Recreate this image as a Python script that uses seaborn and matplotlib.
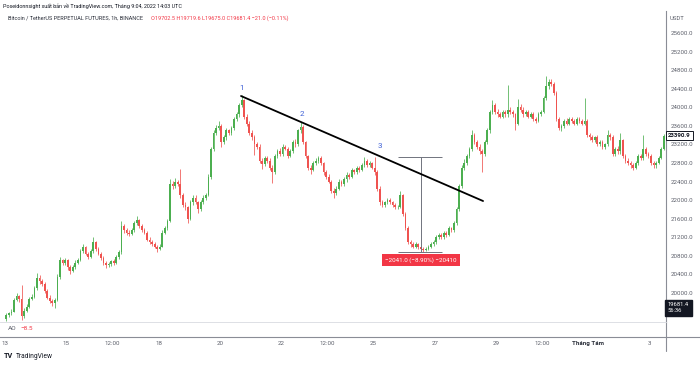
import numpy as np
import pandas as pd
import matplotlib
matplotlib.use("Agg")
import matplotlib.pyplot as plt
from matplotlib.lines import Line2D
import seaborn as sns

# ---------------- data (2-hour candles, Jul 13 00:00 -> Aug 3 10:00) ----------------
first_open = 19450
closes = [
    19520, 19560, 19600, 19850, 19930, 19870, 19500, 19620, 19700, 19880, 19920, 20100,
    20330, 20250, 20200, 20050, 19900, 19820, 19780, 19850, 20350, 20700, 20650, 20700,
    20550, 20480, 20560, 20650, 20700, 20900, 20980, 20850, 20780, 20900, 21100, 20950,
    20850, 20760, 20650, 20600, 20620, 20680, 20650, 20780, 20880, 21450, 21350, 21300,
    21280, 21350, 21500, 21580, 21450, 21350, 21300, 21150, 21100, 21050, 21000, 20950,
    21000, 21300, 21400, 21550, 22350, 22300, 22400, 22350, 22100, 21900, 21850, 21600,
    21950, 22050, 21950, 21800, 21950, 22050, 22100, 22500, 23100, 23450, 23550, 23600,
    23250, 23350, 23500, 23450, 23550, 23750, 23850, 24050, 24150, 23800, 23650, 23450,
    23350, 23200, 23150, 22850, 22780, 22900, 22850, 22700, 22600, 22950, 23050, 23000,
    23150, 23100, 22950, 23050, 23250, 23200, 23500, 23580, 23250, 22950, 22700, 22650,
    22800, 22850, 22900, 22800, 22600, 22500, 22400, 22200, 22150, 22250, 22400, 22350,
    22450, 22550, 22500, 22650, 22600, 22700, 22650, 22750, 22850, 22750, 22800, 22700,
    22600, 22250, 21950, 21900, 21950, 22000, 21950, 21900, 21850, 21850, 22100, 21700,
    21400, 21100, 21050, 21000, 21050, 20980, 20950, 20920, 20950, 21000, 21050, 21100,
    21200, 21250, 21200, 21300, 21250, 21400, 21350, 21500, 21800, 22300, 22700, 22800,
    22950, 23100, 23400, 23250, 23150, 23050, 23000, 23250, 23500, 23900, 24050, 23900,
    23850, 23800, 23900, 23850, 23950, 23900, 23850, 23650, 24000, 23950, 23850, 23900,
    23800, 23850, 23750, 23700, 23850, 23900, 24200, 24450, 24550, 24500, 24300, 23750,
    23550, 23600, 23700, 23650, 23750, 23700, 23650, 23750, 23700, 23650, 23700, 23400,
    23350, 23300, 23350, 23200, 23250, 23150, 23200, 23400, 23350, 23000, 23100, 23050,
    23300, 22950, 22850, 22800, 22750, 22700, 22800, 22950, 22900, 23100, 23000, 22950,
    22800, 22750, 22800, 22900, 23100, 23390.9,
]
highs = [
    19560, 19600, 19660, 19900, 19990, 19960, 20170, 19680, 19760, 19920, 19980, 20160,
    20420, 20380, 20300, 20230, 20080, 19950, 19870, 19900, 20400, 20780, 20740, 20760,
    20740, 20600, 20610, 20700, 20750, 20950, 21050, 21010, 20880, 20940, 21200, 21130,
    20990, 20890, 20800, 20690, 20670, 20720, 20730, 20820, 20920, 21550, 21480, 21400,
    21360, 21400, 21540, 21660, 21600, 21480, 21400, 21330, 21200, 21140, 21090, 21040,
    21060, 21350, 21450, 21600, 22450, 22420, 22470, 22440, 22670, 22150, 21950, 21880,
    22000, 22120, 22100, 21990, 22000, 22110, 22160, 22560, 23150, 23520, 23620, 23700,
    23640, 23400, 23560, 23540, 23600, 23800, 23900, 24100, 24270, 24180, 23850, 23700,
    23500, 23400, 23260, 23200, 22900, 22950, 22950, 22900, 22750, 23000, 23100, 23120,
    23200, 23190, 23140, 23100, 23300, 23310, 23540, 23690, 23620, 23280, 22980, 22760,
    22850, 22900, 22960, 22940, 22830, 22640, 22560, 22430, 22260, 22300, 22450, 22440,
    22490, 22600, 22590, 22700, 22680, 22740, 22730, 22800, 22930, 22880, 22840, 22830,
    22930, 22640, 22300, 22000, 21990, 22040, 22040, 21980, 21940, 21900, 22200, 22130,
    21740, 21440, 21150, 21100, 21090, 21080, 21020, 20990, 20990, 21040, 21090, 21140,
    21240, 21300, 21290, 21340, 21330, 21440, 21430, 21540, 21850, 22350, 22750, 22880,
    23000, 23150, 23500, 23440, 23300, 23200, 23100, 23300, 23550, 23950, 24150, 24100,
    23960, 23900, 23950, 23940, 24480, 24000, 23940, 23880, 24180, 24060, 24000, 23950,
    23940, 23890, 23900, 23800, 23890, 23950, 24250, 24680, 24620, 24600, 24540, 24350,
    23800, 23650, 23740, 23760, 23790, 23800, 23740, 23800, 23790, 23750, 24200, 23740,
    23450, 23400, 23390, 23400, 23300, 23290, 23240, 23500, 23440, 23400, 23150, 23160,
    23450, 23320, 23000, 22900, 22850, 22800, 22840, 23000, 23000, 23400, 23150, 23040,
    22990, 22850, 22850, 22950, 23150, 23420,
]
lows = [
    19400, 19480, 19530, 19580, 19820, 19800, 19420, 19470, 19590, 19680, 19850, 19900,
    20070, 20200, 20150, 20000, 19860, 19780, 19730, 19680, 19820, 20300, 20600, 20610,
    20500, 20400, 20450, 20520, 20620, 20680, 20860, 20820, 20740, 20750, 20870, 20910,
    20810, 20720, 20610, 20530, 20560, 20590, 20600, 20620, 20740, 20850, 21300, 21250,
    21230, 21240, 21320, 21460, 21400, 21310, 21260, 21110, 21050, 21010, 20960, 20880,
    20920, 20980, 21260, 21360, 21520, 22240, 22260, 22300, 22050, 21850, 21780, 21500,
    21580, 21900, 21920, 21720, 21770, 21910, 22000, 22080, 22460, 23050, 23400, 23500,
    23150, 23200, 23300, 23400, 23400, 23520, 23700, 23800, 24000, 23750, 23600, 23400,
    23300, 22980, 23100, 22800, 22680, 22740, 22800, 22650, 22370, 22560, 22900, 22960,
    22960, 23080, 22900, 22920, 23020, 23150, 23160, 23450, 23200, 22900, 22650, 22560,
    22620, 22760, 22810, 22760, 22550, 22460, 22360, 22160, 22050, 22100, 22220, 22300,
    22310, 22400, 22460, 22470, 22560, 22570, 22610, 22620, 22710, 22710, 22720, 22660,
    22550, 22200, 21900, 21850, 21860, 21910, 21910, 21860, 21800, 21800, 21820, 21650,
    21350, 21060, 21000, 20960, 20960, 20940, 20920, 20890, 20900, 20920, 20970, 21010,
    21060, 21160, 21160, 21170, 21210, 21220, 21310, 21320, 21460, 21760, 22260, 22650,
    22750, 22900, 23060, 23200, 23100, 23000, 22600, 22960, 23200, 23450, 23850, 23850,
    23800, 23760, 23760, 23800, 23800, 23860, 23800, 23510, 23620, 23900, 23800, 23810,
    23760, 23760, 23710, 23660, 23680, 23820, 23870, 24150, 24400, 24450, 24260, 23700,
    23500, 23480, 23560, 23610, 23620, 23660, 23610, 23610, 23660, 23620, 23620, 23350,
    23300, 23260, 23260, 23160, 23160, 23100, 23110, 23160, 23300, 22950, 22960, 23000,
    23000, 22900, 22800, 22760, 22700, 22640, 22660, 22760, 22860, 22860, 22960, 22900,
    22760, 22700, 22700, 22780, 22880, 23080,
]

# time axis labels (hours since Jul 13 00:00)
tick_hours = [0, 48, 84, 120, 168, 216, 252, 288, 336, 384, 420, 456, 504]
tick_labels = ["13", "15", "12:00", "18", "20", "22", "12:00", "25", "27", "29", "12:00", "Tháng Tám", "3"]
price_ticks = [20000, 20400, 20800, 21200, 21600, 22000, 22400, 22800,
               23200, 23600, 24000, 24400, 24800, 25200, 25600]

# drawings
trend_hours = [184.5, 373.7]
trend_prices = [24243, 21981]
wave_labels = ["1", "2", "3"]
wave_hours = [185.3, 232.2, 293.2]
wave_prices = [24415, 23855, 23166]
measure_top = 22930
measure_bottom = 20889
measure_hours = [307.2, 341.6]
measure_mid = 325.2
measure_text = "−2041.0 (−8.90%) −20410"
last_price = 23390.9
live_price = 19681.4

# ---------------- build frame ----------------
opens = [first_open] + closes[:-1]
df = pd.DataFrame({"open": opens, "high": highs, "low": lows, "close": closes})
df["t"] = np.arange(len(df)) * 2 + 1.0
df["up"] = df["close"] >= df["open"]

UP = "#4caf50"
DOWN = "#ef5350"

sns.set_theme(style="white")
plt.rcParams["font.family"] = ["Roboto", "DejaVu Sans"]

W, H = 700, 365
fig = plt.figure(figsize=(7, 3.65), dpi=100)
fig.patch.set_facecolor("white")

def fx(px):
    return px / W

def fy(py):
    return 1 - py / H

ax = fig.add_axes([0, fy(322), fx(666), (322 - 11) / H])
ax_ao = fig.add_axes([0, fy(337), fx(666), 15 / H], sharex=ax)

XMIN, XMAX = -3.9, 516.7
ax.set_xlim(XMIN, XMAX)
ax.set_ylim(19375, 26074)

colors = np.where(df["up"], UP, DOWN)
ax.vlines(df["t"], df["low"], df["high"], colors=colors, linewidth=0.55, zorder=2)
body_bottom = np.minimum(df["open"], df["close"])
body_h = np.maximum(np.abs(df["close"] - df["open"]), 12)
ax.bar(df["t"], body_h, bottom=body_bottom, width=1.35, color=colors, linewidth=0, zorder=3)

# trend line
sns.lineplot(x=trend_hours, y=trend_prices, ax=ax, color="black", linewidth=1.3, zorder=5)
for lab, th, tp in zip(wave_labels, wave_hours, wave_prices):
    ax.text(th, tp, lab, color="#3d5fd6", fontsize=5.8, ha="center", va="center", zorder=6)

# measure tool
mc = "#70737d"
ax.hlines([measure_top, measure_bottom], measure_hours[0], measure_hours[1], colors=mc, linewidth=0.7, zorder=4)
ax.vlines(measure_mid, measure_bottom, measure_top, colors=mc, linewidth=0.7, zorder=4)
ax.text(measure_mid, 20710, measure_text, color="white", fontsize=4.5, ha="center", va="center", zorder=7,
        bbox=dict(boxstyle="square,pad=0.5", facecolor="#f23645", edgecolor="none"))

# axes styling
for s in ["top", "left", "bottom"]:
    ax.spines[s].set_visible(False)
ax.spines["right"].set_color("#8a8d96")
ax.spines["right"].set_linewidth(0.8)
ax.yaxis.tick_right()
ax.set_yticks(price_ticks)
ax.set_yticklabels([f"{v:.1f}" for v in price_ticks])
ax.tick_params(axis="y", length=0, pad=3.5, labelsize=4.4, labelcolor="#5d606b")
ax.tick_params(axis="x", length=0, labelbottom=False)
ax.grid(False)
ax.set_xlabel("")
ax.set_ylabel("")

# AO pane
ax_ao.set_ylim(0, 1)
ax_ao.set_yticks([])
ax_ao.spines["left"].set_visible(False)
ax_ao.spines["top"].set_color("#d8dae0")
ax_ao.spines["top"].set_linewidth(0.6)
ax_ao.spines["bottom"].set_color("#8a8d96")
ax_ao.spines["bottom"].set_linewidth(0.8)
ax_ao.spines["right"].set_color("#8a8d96")
ax_ao.spines["right"].set_linewidth(0.8)
ax_ao.set_xticks(tick_hours)
ax_ao.set_xticklabels(tick_labels)
ax_ao.tick_params(axis="x", length=0, pad=3.2, labelsize=4.4, labelcolor="#5d606b")
for lbl in ax_ao.get_xticklabels():
    if lbl.get_text() == "Tháng Tám":
        lbl.set_fontweight("bold")
        lbl.set_color("#2a2e39")
ax_ao.text(0.012, 0.55, "AO", transform=ax_ao.transAxes, fontsize=4.6, color="#5d606b", va="center", ha="left")
ax_ao.text(0.030, 0.55, "−8.5", transform=ax_ao.transAxes, fontsize=4.6, color="#f23645", va="center", ha="left")

# figure-level lines extending beyond axes
fig.add_artist(Line2D([fx(666), 1], [fy(337), fy(337)], color="#8a8d96", linewidth=0.8))
fig.add_artist(Line2D([fx(666), fx(666)], [fy(337), fy(351)], color="#8a8d96", linewidth=0.8))

# header texts
fig.text(fx(3), fy(6), "Poseidonnsight xuất bản về TradingView.com, Tháng 9:04, 2022 14:03 UTC",
         fontsize=3.9, color="#131722", va="center", ha="left")
fig.text(fx(8), fy(18.5), "Bitcoin / TetherUS PERPETUAL FUTURES, 1h, BINANCE",
         fontsize=4.0, color="#2a2e39", va="center", ha="left")
fig.text(fx(151), fy(18.5), "O19702.5 H19719.6 L19675.0 C19681.4 −21.0 (−0.11%)",
         fontsize=4.0, color="#f23645", va="center", ha="left")
fig.text(fx(670), fy(18), "USDT", fontsize=4.3, color="#5d606b", va="center", ha="left")

# price boxes on the right scale
ax.text(1.003, last_price, f"{last_price:.1f}", transform=ax.get_yaxis_transform(), fontsize=4.4,
        color="#131722", fontweight="bold", va="center", ha="left", zorder=10, clip_on=False,
        bbox=dict(boxstyle="square,pad=0.35", facecolor="white", edgecolor="#131722", linewidth=0.7))
ax.text(1.003, live_price, f"{live_price:.1f}\n56:36", transform=ax.get_yaxis_transform(), fontsize=4.2,
        color="white", va="center", ha="left", zorder=10, clip_on=False, linespacing=1.3,
        bbox=dict(boxstyle="square,pad=0.45", facecolor="#131722", edgecolor="#131722"))

# TradingView logo
fig.text(fx(4), fy(356.5), "TV", fontsize=5.2, fontweight="bold", color="#131722", va="center", ha="left")
fig.text(fx(16), fy(356.5), "TradingView", fontsize=4.8, color="#131722", va="center", ha="left")

fig.savefig("out.png", dpi=100, facecolor="white")
